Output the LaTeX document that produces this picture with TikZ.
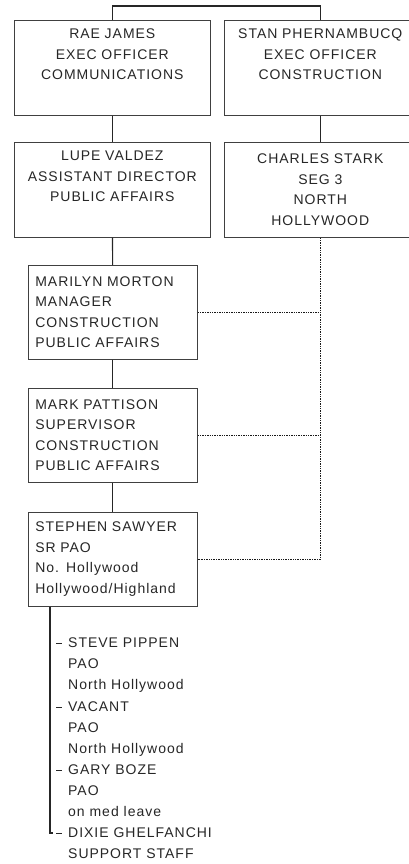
\documentclass[tikz,border=0pt]{standalone}
\usepackage{fontspec}
\setmainfont{Liberation Sans}[LetterSpace=7]
\usetikzlibrary{positioning}

\begin{document}
\begin{tikzpicture}[x=1pt,y=-1pt,
    every node/.style={font=\fontsize{14}{20.5}\selectfont, text=black!85},
    chief/.style={draw=black!75, line width=.6pt, anchor=north west, align=center,
      inner xsep=5pt, inner ysep=0pt, minimum height=95pt},
    staffbox/.style={draw=black!75, line width=.6pt, anchor=north west, align=left,
      inner xsep=7pt, inner ysep=0pt, text width=155pt, minimum height=94pt},
    member/.style={anchor=north west, align=left, inner sep=0pt,
      font=\fontsize{14}{21}\selectfont},
    link/.style={line width=1.1pt, black!85},
    dotlink/.style={line width=1.4pt, black!90, densely dotted}]
  \useasboundingbox (0,0) rectangle (408,864);

  % executive officers
  \node[chief, text width=186pt] (rae) at (14,20)
    {RAE JAMES\\EXEC OFFICER\\COMMUNICATIONS\\\strut};
  \node[chief, text width=182pt] (stan) at (224,20)
    {STAN PHERNAMBUCQ\\EXEC OFFICER\\CONSTRUCTION\\\strut};
  \draw[link] (rae.north) -- ++(0,-14) -| (stan.north);

  \node[chief, text width=186pt] (lupe) at (14,142)
    {LUPE VALDEZ\\ASSISTANT DIRECTOR\\PUBLIC AFFAIRS\\\strut};
  \node[chief, text width=182pt] (charles) at (224,142)
    {CHARLES STARK\\SEG 3\\NORTH\\HOLLYWOOD};
  \draw[link] (rae) -- (lupe);
  \draw[link] (stan) -- (charles);

  % public affairs line
  \node[staffbox] (marilyn) at (28,265)
    {MARILYN MORTON\\MANAGER\\CONSTRUCTION\\PUBLIC AFFAIRS};
  \node[staffbox] (mark) at (28,388)
    {MARK PATTISON\\SUPERVISOR\\CONSTRUCTION\\PUBLIC AFFAIRS};
  \node[staffbox] (stephen) at (28,512)
    {STEPHEN SAWYER\\SR PAO\\No. Hollywood\\Hollywood/Highland};
  \draw[link] (lupe) -- (marilyn);
  \draw[link] (marilyn) -- (mark);
  \draw[link] (mark) -- (stephen);

  % dotted lines to the segment
  \draw[dotlink] (charles.south) |- (stephen.east);
  \draw[dotlink] (marilyn.east) -- (marilyn.east -| charles.south);
  \draw[dotlink] (mark.east) -- (mark.east -| charles.south);

  % staff under the senior PAO
  \node[member] (pippen) at (68,638) {STEVE PIPPEN\\PAO\\North Hollywood};
  \node[member] (vacant) at (68,702) {VACANT\\PAO\\North Hollywood};
  \node[member] (boze) at (68,765) {GARY BOZE\\PAO\\on med leave};
  \node[member] (dixie) at (68,828) {DIXIE GHELFANCHI\\SUPPORT STAFF};

  \coordinate (trunk) at (50,833);
  \draw[link] (stephen.south -| trunk) -- (trunk) -- ++(3,0);
  \foreach \who in {pippen,vacant,boze,dixie}
    \draw[line width=.8pt, black!85] ([xshift=-12pt,yshift=-5pt]\who.north west) -- ++(6,0);
\end{tikzpicture}
\end{document}
